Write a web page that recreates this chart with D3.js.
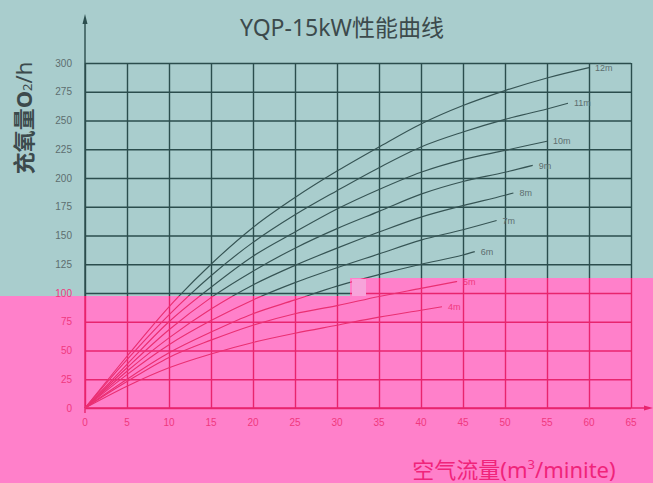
<!DOCTYPE html>
<html>
<head>
<meta charset="utf-8">
<script src="https://cdn.jsdelivr.net/npm/d3@7"></script>
<style>
  body { margin: 0; background: #a9cdcd; }
  svg { display: block; font-family: "Noto Sans", "Noto Sans CJK SC", sans-serif; }
</style>
</head>
<body>
<svg id="chart" width="653" height="483"></svg>
<script>
// tick values
const xTicks = [0, 5, 10, 15, 20, 25, 30, 35, 40, 45, 50, 55, 60, 65];
const yTicks = [0, 25, 50, 75, 100, 125, 150, 175, 200, 225, 250, 275, 300];

// curves: depth name, air flow (m3/min) and O2
const depths = ['4m', '5m', '6m', '7m', '8m', '9m', '10m', '11m', '12m'];
const flow = [0, 5, 10, 15, 20, 25, 30, 35, 40, 45, 50, 55];
const o2_4m = [0, 19, 35, 47, 57, 65, 72, 79, 85];
const o2_5m = [0, 23, 44, 59, 72, 82, 89, 97, 104];
const o2_6m = [0, 25, 48, 66, 82, 94, 106, 116, 125, 133];
const o2_7m = [0, 29, 55, 76, 94, 109, 122, 134, 146, 155];
const o2_8m = [0, 32, 61, 86, 107, 124, 139, 153, 166, 176, 185];
const o2_9m = [0, 35, 68, 96, 119, 139, 156, 171, 186, 197, 205];
const o2_10m = [0, 38, 75, 105, 132, 153, 173, 190, 205, 216, 224];
const o2_11m = [0, 42, 81, 115, 144, 168, 189, 209, 227, 240, 251, 260];
const o2_12m = [0, 45, 88, 125, 157, 183, 206, 227, 247, 263, 276, 287];
// where each curve stops (label sits there)
const endFlow = [42.5, 44.3, 46.4, 49, 51, 53.3, 55, 57.5, 60];
const endO2 = [88, 110, 136, 163, 187, 211, 232, 265, 296];

const o2Lists = [o2_4m, o2_5m, o2_6m, o2_7m, o2_8m, o2_9m, o2_10m, o2_11m, o2_12m];

const W = 653;
const H = 483;
const svg = d3.select('#chart');
const x = d3.scaleLinear().domain([0, 65]).range([85, 631]);
const y = d3.scaleLinear().domain([0, 300]).range([408, 63]);

const series = depths.map((name, i) => {
  const pts = o2Lists[i].map((v, j) => [flow[j], v]);
  pts.push([endFlow[i], endO2[i]]);
  return { name, pts };
});

// the photo has a pink cast over its lower part; marks are drawn twice, clipped
const pinkTop = 296;
const pinkStep = { x: 350, y: 278 };
const defs = svg.append('defs');
defs.append('clipPath').attr('id', 'clip-teal').append('path')
  .attr('d', `M0,0H${W}V${pinkStep.y}H${pinkStep.x}V${pinkTop}H0Z`);
defs.append('clipPath').attr('id', 'clip-pink').append('path')
  .attr('d', `M0,${pinkTop}H${pinkStep.x}V${pinkStep.y}H${W}V${H}H0Z`);

const teal = {
  bg: '#a9cdcd', grid: '#2b4d4d', curve: '#365454', tick: '#5d6d6f', title: '#3c4a4c',
};
const pink = {
  bg: '#ff80ca', grid: '#e8246e', curve: '#ea2f72', tick: '#f0387e', title: '#f0247a',
};

// which palette a point falls in
function palAt(px, py) {
  const inPink = py >= pinkTop || (px >= pinkStep.x && py >= pinkStep.y);
  return inPink ? pink : teal;
}

function drawMarks(g, pal) {
  g.append('rect').attr('width', W).attr('height', H).attr('fill', pal.bg);

  // grid from the axes
  const gx = g.append('g')
    .attr('transform', `translate(0,${y(0)})`)
    .call(d3.axisBottom(x).tickValues(xTicks).tickSize(-(y(0) - y(300))).tickFormat(''));
  const gy = g.append('g')
    .attr('transform', `translate(${x(0)},0)`)
    .call(d3.axisLeft(y).tickValues(yTicks).tickSize(-(x(65) - x(0))).tickFormat(''));
  [gx, gy].forEach((ax) => {
    ax.select('.domain').remove();
    ax.selectAll('.tick line').attr('stroke', pal.grid).attr('stroke-width', 1.4);
  });

  // axis lines with arrows
  g.append('line').attr('x1', x(0)).attr('x2', x(0)).attr('y1', 413).attr('y2', 20)
    .attr('stroke', pal.grid).attr('stroke-width', 1.4);
  g.append('path').attr('d', `M${x(0)},14L${x(0) - 2.5},24L${x(0) + 2.5},24Z`).attr('fill', pal.grid);
  g.append('line').attr('x1', x(0)).attr('x2', 648).attr('y1', y(0)).attr('y2', y(0))
    .attr('stroke', pal.grid).attr('stroke-width', 1.4);
  g.append('path').attr('d', `M653,${y(0)}L644,${y(0) - 2.5}L644,${y(0) + 2.5}Z`).attr('fill', pal.grid);

  // curves
  const line = d3.line().x((d) => x(d[0])).y((d) => y(d[1])).curve(d3.curveMonotoneX);
  g.selectAll('.curve').data(series).join('path')
    .attr('class', 'curve')
    .attr('d', (d) => line(d.pts))
    .attr('fill', 'none')
    .attr('stroke', pal.curve)
    .attr('stroke-width', 1.15);
}

drawMarks(svg.append('g').attr('clip-path', 'url(#clip-teal)'), teal);
drawMarks(svg.append('g').attr('clip-path', 'url(#clip-pink)'), pink);

// scanning glitch in the photo
svg.append('rect').attr('x', 352).attr('y', 279).attr('width', 14).attr('height', 17)
  .attr('fill', '#f7a3da');

// texts are drawn once, coloured by where they sit
const labels = svg.append('g').style('font-family', '"Liberation Sans", sans-serif');
labels.selectAll('.xt').data(xTicks).join('text')
  .attr('class', 'xt')
  .attr('x', (d) => x(d)).attr('y', 426)
  .attr('text-anchor', 'middle')
  .attr('fill', (d) => palAt(x(d), 426).tick)
  .style('font-size', '10px')
  .text((d) => d);
labels.selectAll('.yt').data(yTicks).join('text')
  .attr('class', 'yt')
  .attr('x', 72).attr('y', (d) => y(d))
  .attr('dy', '0.35em')
  .attr('text-anchor', 'end')
  .attr('fill', (d) => palAt(72, y(d) + 3).tick)
  .style('font-size', '10px')
  .text((d) => d);
labels.selectAll('.lbl').data(series).join('text')
  .attr('class', 'lbl')
  .attr('x', (d) => x(d.pts[d.pts.length - 1][0]) + 6)
  .attr('y', (d) => y(d.pts[d.pts.length - 1][1]))
  .attr('dy', '0.35em')
  .attr('fill', (d) => palAt(x(d.pts[d.pts.length - 1][0]) + 6, y(d.pts[d.pts.length - 1][1])).tick)
  .style('font-size', '9px')
  .text((d) => d.name);

svg.append('text').attr('x', 342).attr('y', 36).attr('text-anchor', 'middle')
  .attr('fill', teal.title).style('font-size', '23px')
  .text('YQP-15kW性能曲线');

const yl = svg.append('text')
  .attr('transform', 'translate(32,118) rotate(-90)')
  .attr('text-anchor', 'middle')
  .attr('fill', teal.title).style('font-size', '22px').style('font-weight', 'bold');
yl.append('tspan').text('充氧量O');
yl.append('tspan').style('font-size', '13px').style('font-weight', 'normal').text('2');
yl.append('tspan').style('font-weight', 'normal').text('/h');

const xl = svg.append('text').attr('x', 514).attr('y', 478).attr('text-anchor', 'middle')
  .attr('fill', pink.title).style('font-size', '22px');
xl.append('tspan').text('空气流量(m');
xl.append('tspan').attr('dy', -9).style('font-size', '13px').text('3');
xl.append('tspan').attr('dy', 9).text('/minite)');
</script>
</body>
</html>
